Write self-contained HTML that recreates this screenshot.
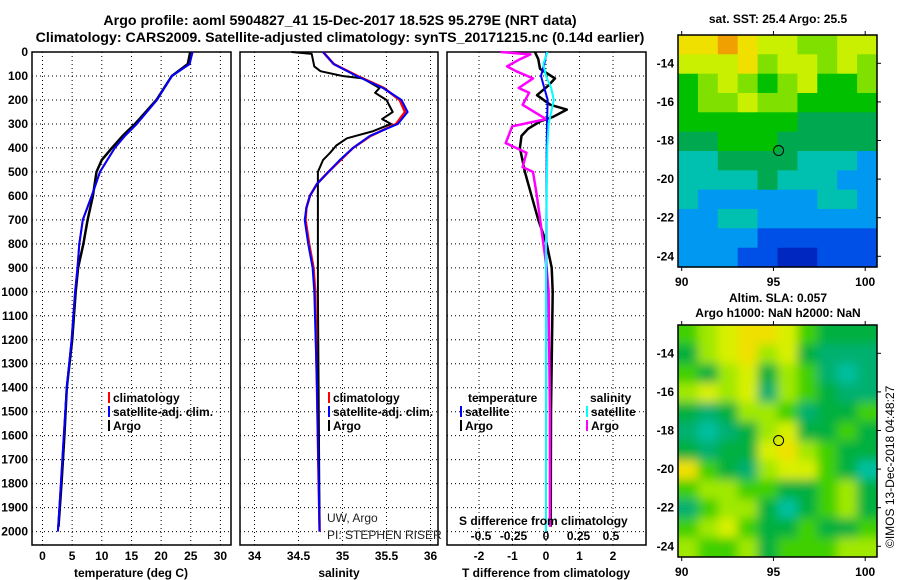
<!DOCTYPE html>
<html><head><meta charset="utf-8"><style>
body{margin:0;background:#fff;}
svg{display:block;font-family:"Liberation Sans",Arial,sans-serif;}
.b{font-weight:bold;font-size:12px;}
</style></head><body>
<svg id="c" width="900" height="580" viewBox="0 0 900 580">
<defs>
<filter id="bl" x="-10%" y="-10%" width="120%" height="120%"><feGaussianBlur stdDeviation="5"/></filter>
<clipPath id="clipsla"><rect x="678" y="325" width="199" height="232"/></clipPath>
</defs>
<text x="340" y="25" text-anchor="middle" font-size="14.2" font-weight="bold">Argo profile: aoml 5904827_41 15-Dec-2017 18.52S 95.279E (NRT data)</text>
<text x="340" y="42" text-anchor="middle" font-size="14.2" font-weight="bold">Climatology: CARS2009. Satellite-adjusted climatology: synTS_20171215.nc (0.14d earlier)</text>
<text x="778" y="23" text-anchor="middle" class="b">sat. SST: 25.4 Argo: 25.5</text>
<text x="778" y="302" text-anchor="middle" class="b">Altim. SLA: 0.057</text>
<text x="778" y="317" text-anchor="middle" class="b">Argo h1000: NaN h2000: NaN</text>
<text transform="translate(894,548) rotate(-90)" font-size="12">©IMOS 13-Dec-2018 04:48:27</text>
<g id="g"></g>
</svg>
<script>
// ---------- data ----------
const depthTicks=[0,100,200,300,400,500,600,700,800,900,1000,1100,1200,1300,1400,1500,1600,1700,1800,1900,2000];
const tempTicks=[0,5,10,15,20,25,30];
const salTicks=[34,34.5,35,35.5,36];
const tdTicks=[-2,-1,0,1,2];
const sdTickLabels=["-0.5","-0.25","0","0.25","0.5"];
const sdTickVals=[-0.5,-0.25,0,0.25,0.5];
const climTDepth=[0,50,100,200,300,350,400,500,600,700,800,900,1000,1200,1400,1600,1800,2000];
const climT=[25.3,24.8,21.8,19.3,15.9,13.9,12.2,9.7,8.3,6.8,6.2,5.9,5.5,4.9,4.1,3.6,3.1,2.6];
const argoTDepth=[0,50,100,200,300,350,400,450,500,600,700,800,900,1000,1200,1400,1600,1800,1980];
const argoT=[24.9,24.5,21.8,19.2,15.6,13.5,11.7,10.0,9.1,8.5,7.6,6.9,6.0,5.6,5.0,4.1,3.7,3.2,2.7];
const climSDepth=[0,50,100,150,200,250,300,350,400,450,500,550,600,650,700,800,900,1000,1400,2000];
const climS=[34.78,34.9,35.16,35.46,35.67,35.74,35.63,35.31,35.12,34.97,34.84,34.71,34.63,34.59,34.57,34.61,34.66,34.68,34.71,34.74];
const climSred=[34.78,34.9,35.17,35.47,35.65,35.71,35.61,35.32,35.12,34.98,34.84,34.71,34.63,34.59,34.58,34.62,34.67,34.69,34.71,34.74];
const argoSDepth=[0,8,60,80,100,110,150,170,200,250,280,300,330,360,390,420,450,500,750,1000,1980];
const argoS=[34.42,34.65,34.68,34.75,35.0,35.23,35.42,35.37,35.5,35.57,35.45,35.55,35.35,35.05,34.93,34.86,34.78,34.72,34.72,34.72,34.74];
const dTDepth=[0,30,70,110,140,180,220,240,270,290,320,350,400,500,600,700,800,900,1000,1500,1980];
const dTArgo=[-0.33,-0.23,-0.18,0.27,0.07,-0.27,0.13,0.62,0.22,-0.18,-0.53,-0.73,-0.78,-0.63,-0.43,-0.23,0.02,0.17,0.2,0.15,0.14];
const dSDepth=[0,10,30,60,80,110,150,170,220,280,310,380,420,480,500,600,800,900,1000,1500,1980];
const dSArgo=[-0.35,-0.12,-0.2,-0.3,-0.23,-0.1,-0.21,-0.13,-0.18,0,-0.26,-0.31,-0.15,-0.18,-0.1,-0.07,-0.02,0.005,0.02,0.03,0.03];
const satDepth=[0,50,100,150,200,300,400,800,2000];
const dTSat=[0.02,-0.05,-0.15,-0.05,0.05,0.03,0.02,0.01,0];
const dSSat=[0.01,-0.02,0.0,0.04,0.06,0.02,0.01,0.0,0];
const sstGrid=[
[8,8,9,8,7,7,6,6,7,7],[7,7,7,8,6,7,7,6,7,6],[5,6,7,6,5,6,7,5,5,6],[5,6,6,7,6,6,5,5,5,5],
[5,5,5,5,5,5,4,4,4,4],[4,4,5,5,5,4,4,4,4,4],[3,3,4,4,4,4,3,3,3,2],[3,3,3,3,4,3,3,3,2,2],
[3,2,2,2,2,2,2,3,3,2],[2,2,3,3,2,2,2,2,2,2],[2,2,2,2,1,1,1,1,1,1],[2,2,2,1,1,0,0,1,1,1]];
const slaGrid=[
[5,6,7,8,8,7,5,4,4,4],[4,6,7,8,6,7,4,3,3,3],[5,4,6,7,4,6,5,3,2,3],[6,7,6,7,3,6,5,4,3,3],
[4,3,4,6,6,5,3,4,4,5],[3,2,3,4,6,7,4,4,5,4],[4,3,4,4,7,8,6,5,4,4],[8,5,4,3,6,7,7,5,4,2],
[5,6,6,5,5,4,4,5,6,4],[3,5,6,6,4,2,4,5,6,4],[5,6,7,5,4,4,5,4,4,5],[6,5,5,6,4,5,5,5,6,6]];
const argoLon=95.28, argoLat=-18.52;
const lonTicks=[90,95,100], latTicks=[-14,-16,-18,-20,-22,-24];

// ---------- helpers ----------
const NS="http://www.w3.org/2000/svg", G=document.getElementById('g');
function mk(tag,at,parent){const e=document.createElementNS(NS,tag);for(const k in at)e.setAttribute(k,at[k]);(parent||G).appendChild(e);return e;}
const Y=d=>52+d*0.2398;
const TOP=52,BOT=545;
const P1={x0:32,x1:231,f:t=>42.5+t*5.93};
const P2={x0:240,x1:438,f:s=>254.5+(s-34)*88};
const P3={x0:447,x1:646,f:t=>546+t*33.5,g:s=>546+s*130};
function frame(p,name){
  depthTicks.forEach(d=>{if(d===0)return;const l=mk('line',{x1:p.x0,x2:p.x1,y1:Y(d),y2:Y(d),stroke:'#000','stroke-dasharray':'1,3'});
  
  });
  const r=mk('rect',{x:p.x0,y:TOP,width:p.x1-p.x0,height:BOT-TOP,fill:'none',stroke:'#000','stroke-width':1.5});
  
  
}
function vgrid(p,vals,f,name){vals.forEach(v=>{const x=f(v);
  const l=mk('line',{x1:x,x2:x,y1:TOP,y2:BOT,stroke:'#000','stroke-dasharray':'1,3'});
  
  
  const t=mk('text',{x:x,y:560,'text-anchor':'middle','class':'b'});t.textContent=String(v);
  
  });}
function line(ds,vs,f,color,w,name){
  const pts=ds.map((d,i)=>f(vs[i]).toFixed(1)+','+Y(d).toFixed(1)).join(' ');
  const l=mk('polyline',{points:pts,fill:'none',stroke:color,'stroke-width':w,'stroke-linejoin':'round'});
  
  
}
function txt(x,y,s,cls,name,extra){const t=mk('text',Object.assign({x:x,y:y},extra||{}));if(cls)t.setAttribute('class',cls);t.textContent=s;
  
  return t;}
function leg(x,y,color,label,name){const l=mk('line',{x1:x,x2:x,y1:y-10,y2:y+1,stroke:color,'stroke-width':2});
  
  
  txt(x+4,y,label,'b',name);}

// ---------- panels ----------
frame(P1,'temperature-panel');frame(P2,'salinity-panel');frame(P3,'difference-panel');
vgrid(P1,tempTicks,P1.f,'temperature');vgrid(P2,salTicks,P2.f,'salinity');vgrid(P3,tdTicks,P3.f,'t-diff');
depthTicks.forEach(d=>txt(28,Y(d)+4,String(d),'b','depth-tick-label',{'text-anchor':'end'}));
txt(131,577,'temperature (deg C)','b','temperature-axis-title',{'text-anchor':'middle'});
txt(339,577,'salinity','b','salinity-axis-title',{'text-anchor':'middle'});
txt(546,577,'T difference from climatology','b','t-diff-axis-title',{'text-anchor':'middle'});

line(climTDepth,climT,P1.f,'#f00',2,'temperature-climatology-line');
line(argoTDepth,argoT,P1.f,'#000',2.5,'temperature-argo-line');
line(climTDepth,climT,P1.f,'#00f',2,'temperature-satellite-line');
line(climSDepth,climSred,P2.f,'#f00',2.5,'salinity-climatology-line');
line(argoSDepth,argoS,P2.f,'#000',2,'salinity-argo-line');
line(climSDepth,climS,P2.f,'#00f',2,'salinity-satellite-line');
line(dTDepth,dTArgo,P3.f,'#000',2.5,'t-diff-argo-line');
line(dSDepth,dSArgo,P3.g,'#f0f',2.5,'s-diff-argo-line');
line(satDepth,dTSat,P3.f,'#00f',2,'t-diff-satellite-line');
line(satDepth,dSSat,P3.g,'#0ff',2,'s-diff-satellite-line');

leg(109,402,'#f00','climatology','legend-climatology');
leg(109,416,'#00f','satellite-adj. clim.','legend-satellite-adj');
leg(109,430,'#000','Argo','legend-argo');
leg(329,402,'#f00','climatology','legend2-climatology');
leg(329,416,'#00f','satellite-adj. clim.','legend2-satellite-adj');
leg(329,430,'#000','Argo','legend2-argo');
txt(468,402,'temperature','b','legend-temperature-header');
txt(590,402,'salinity','b','legend-salinity-header');
leg(461,416,'#00f','satellite','legend-t-satellite');
leg(461,430,'#000','Argo','legend-t-argo');
leg(587,416,'#0ff','satellite','legend-s-satellite');
leg(587,430,'#f0f','Argo','legend-s-argo');
txt(327,522,'UW, Argo',null,'pi-institution',{'font-size':12,fill:'#222'});
txt(327,539,'PI: STEPHEN RISER',null,'pi-name',{'font-size':12,fill:'#222'});
txt(459,525,'S difference from climatology','b','s-diff-axis-title');
sdTickVals.forEach((v,i)=>txt(P3.g(v),540,sdTickLabels[i],'b','s-diff-tick-label',{'text-anchor':'middle'}));

// ---------- maps ----------
const sstPal=['#0028c0','#0050e8','#0098f0','#00c0b0','#00a850','#00c000','#80e000','#c8f000','#f0e000','#f0a000'];
const slaPal=['#00a090','#00b890','#00c0a0','#00b070','#00b040','#40d000','#a0e800','#d8f000','#f0e000'];
function map(y0,y1,grid,pal,name,blur){
  const x0=678,x1=877,lx=lon=>681.7+(lon-90)*18.35,ly=lat=>(y0+28.3)+(-14-lat)*19.3;
  const rows=grid.length,cols=grid[0].length,cw=(x1-x0)/cols,ch=(y1-y0)/rows;
  const outer=mk('g',blur?{'clip-path':'url(#clipsla)'}:{});
  const g=mk('g',blur?{filter:'url(#bl)'}:{},outer);
  
  
  grid.forEach((r,i)=>r.forEach((v,j)=>{
    let x=x0+j*cw,y=y0+i*ch,w=cw+0.6,h=ch+0.6;
    if(blur){if(j===0){x-=10;w+=10;}if(j===cols-1)w+=10;if(i===0){y-=10;h+=10;}if(i===rows-1)h+=10;}
    const c=mk('rect',{x:x.toFixed(1),y:y.toFixed(1),width:w.toFixed(1),height:h.toFixed(1),fill:pal[v]},g);
    
    }));
  const r=mk('rect',{x:x0,y:y0,width:x1-x0,height:y1-y0,fill:'none',stroke:'#000','stroke-width':1.5});
  
  
  const c=mk('circle',{cx:lx(argoLon),cy:ly(argoLat),r:5,fill:'none',stroke:'#000','stroke-width':1});
  
  
  latTicks.forEach(l=>{const y=ly(l);mk('line',{x1:x1,x2:x1+4,y1:y,y2:y,stroke:'#000'});
    txt(674,y+4,String(l),'b',name+'-lat-label',{'text-anchor':'end'});});
  lonTicks.forEach(l=>{const x=lx(l);mk('line',{x1:x,x2:x,y1:y0,y2:y0-4,stroke:'#000'});mk('line',{x1:x,x2:x,y1:y1,y2:y1+4,stroke:'#000'});
    txt(x,y1+19,String(l),'b',name+'-lon-label',{'text-anchor':'middle'});});
}
map(35,267,sstGrid,sstPal,'sst-map',false);
map(325,557,slaGrid,slaPal,'sla-map',true);
</script>
</body></html>
